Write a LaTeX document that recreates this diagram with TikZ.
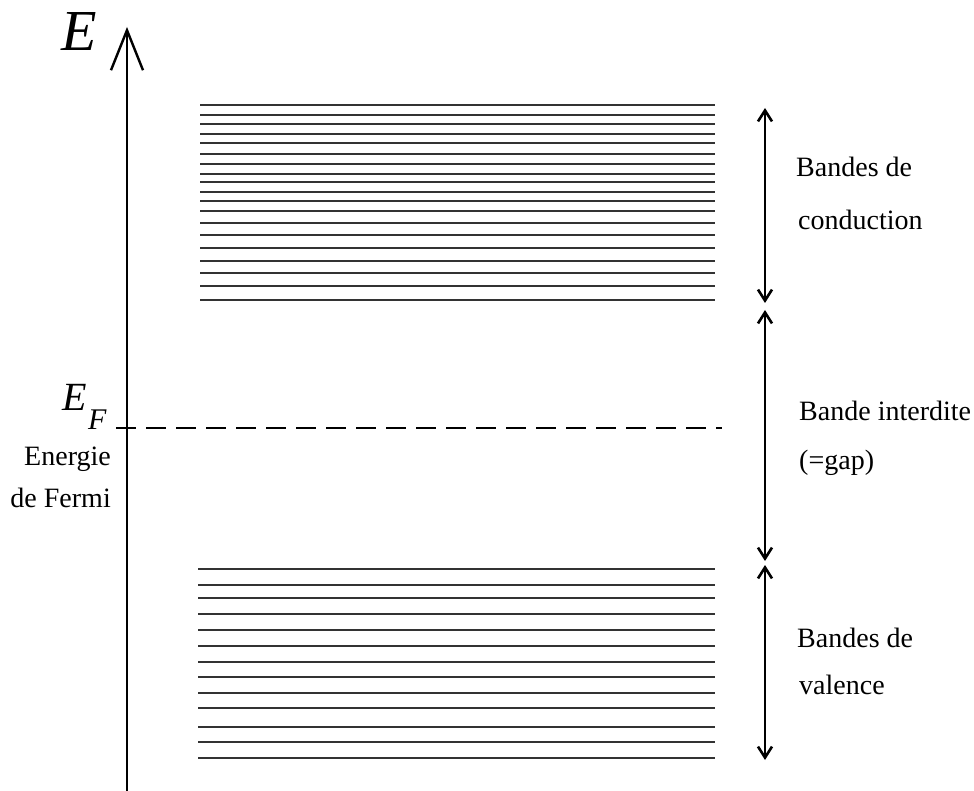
\documentclass[tikz,border=0pt]{standalone}
\usepackage{fontspec}
\setmainfont{Liberation Serif}
\usetikzlibrary{arrows.meta}
\tikzset{
  level/.style={line width=2.4pt, draw=black!80},
  bandarrow/.style={line width=2.6pt, {Straight Barb[length=11pt,width=14pt]}-{Straight Barb[length=11pt,width=14pt]}},
  lbl/.style={font=\fontsize{28}{30}\selectfont, anchor=base west, inner sep=0pt},
  lblr/.style={font=\fontsize{28}{30}\selectfont, anchor=base east, inner sep=0pt}
}
\begin{document}
\begin{tikzpicture}[x=1pt,y=-1pt]
\useasboundingbox (0,0) rectangle (974,791);
% axis
\coordinate (axb) at (127,795);
\coordinate (axt) at (127,27);
\draw[line width=2.4pt, -{Straight Barb[length=40pt,width=32pt]}] (axb) -- (axt);
\node[inner sep=0pt, anchor=base west, font=\fontsize{58}{60}\selectfont\itshape] (E) at (61,51) {E};
% conduction levels
\foreach \y in {105,115,124,134,143,154,164,174,182,192,201,211,223,235,248,261,273,286,300}
  \draw[level] (200,\y) -- (715,\y);
% valence levels
\foreach \y in {569,585,598,614,630,646,662,677,693,708,727,742,758}
  \draw[level] (198,\y) -- (715,\y);
% Fermi level
\coordinate (fa) at (116,428);
\coordinate (fb) at (722,428);
\draw[line width=2.4pt, dash pattern=on 20pt off 10pt] (fa) -- (fb);
\node[inner sep=0pt, anchor=base west, font=\fontsize{40}{42}\selectfont\itshape] (EF) at (62,410) {E};
\node[inner sep=0pt, anchor=base west, font=\fontsize{30}{32}\selectfont\itshape] (F) at (88,429) {F};
\node[lblr] (en1) at (111,465) {Energie};
\node[lblr] (en2) at (111,507) {de Fermi};
% right arrows
\coordinate (c1) at (765,108);
\coordinate (c2) at (765,303);
\coordinate (g1) at (765,310);
\coordinate (g2) at (765,561);
\coordinate (v1) at (765,565);
\coordinate (v2) at (765,760);
\draw[bandarrow] (c1) -- (c2);
\draw[bandarrow] (g1) -- (g2);
\draw[bandarrow] (v1) -- (v2);
\node[lbl] (t1) at (796,177) {Bandes de};
\node[lbl] (t2) at (798,230) {conduction};
\node[lbl] (t3) at (799,420) {Bande interdite};
\node[lbl] (t4) at (799,469) {(=gap)};
\node[lbl] (t5) at (797,647) {Bandes de};
\node[lbl] (t6) at (799,694) {valence};
\end{tikzpicture}
\end{document}
